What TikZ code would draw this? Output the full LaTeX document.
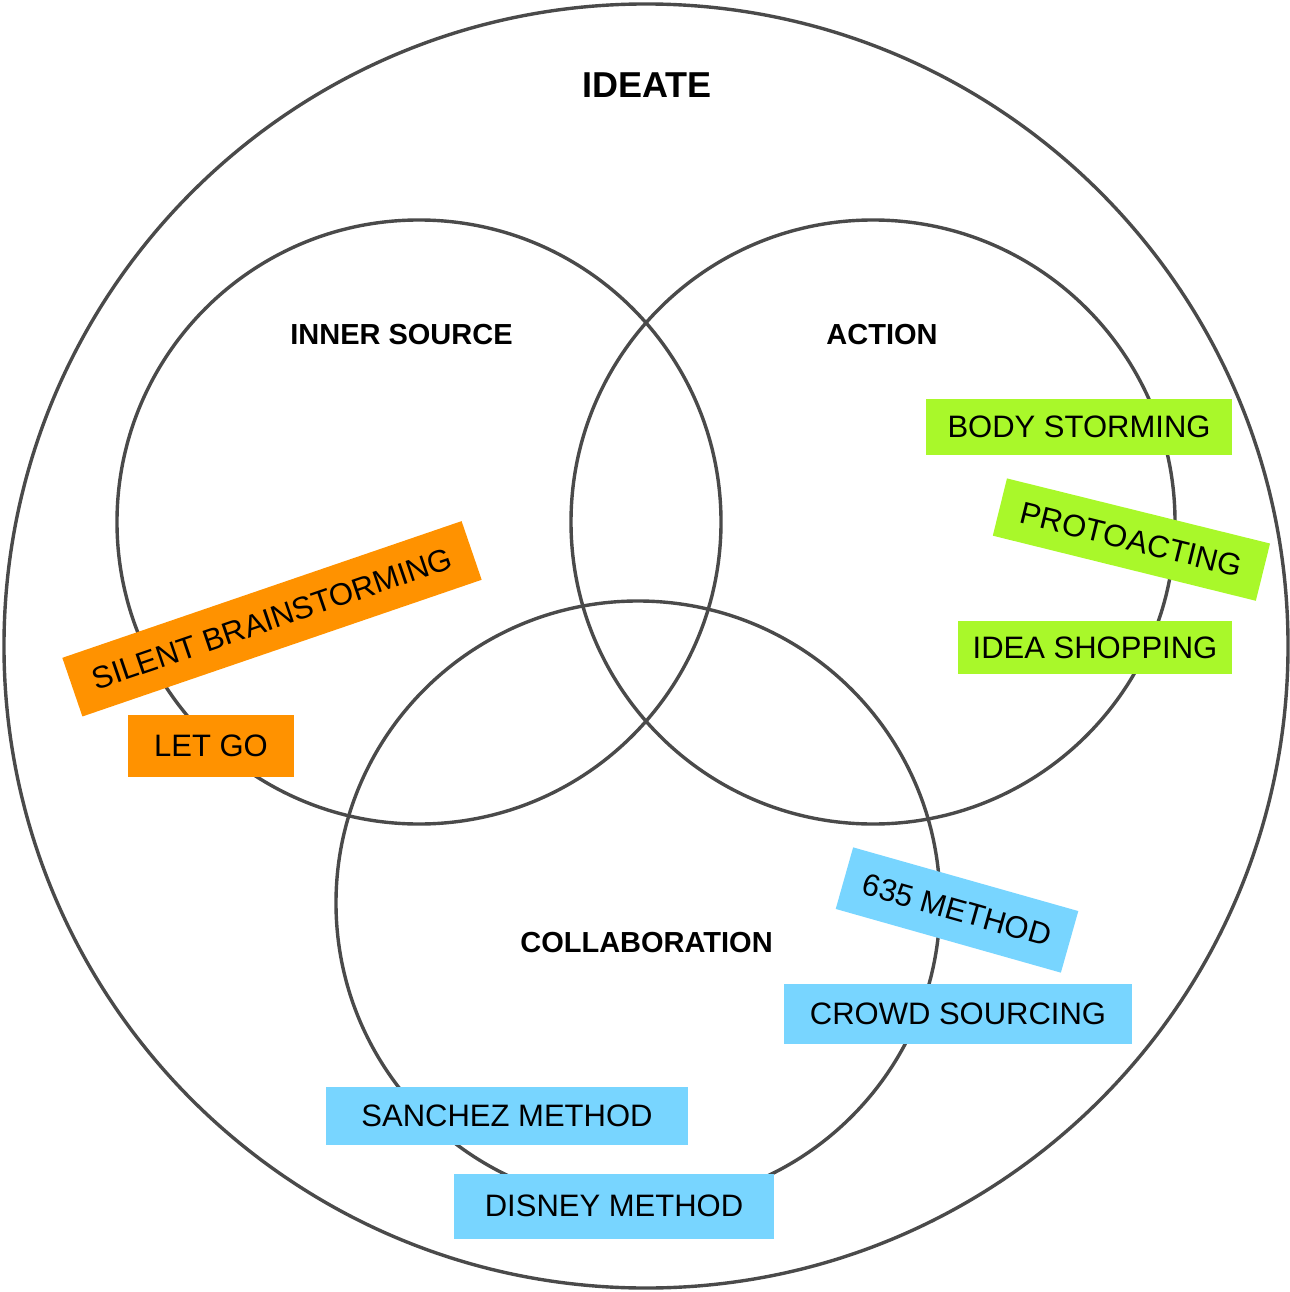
\documentclass[tikz,border=0pt]{standalone}
\usepackage{fontspec}
\setmainfont{Liberation Sans}
\definecolor{ringgray}{HTML}{4A4A4A}
\definecolor{tagorange}{HTML}{FF9200}
\definecolor{taggreen}{HTML}{A9F82A}
\definecolor{tagblue}{HTML}{78D5FF}
\begin{document}
\begin{tikzpicture}[x=0.5bp,y=-0.5bp,
  ring/.style={circle, draw=ringgray, line width=1.7bp, inner sep=0pt},
  title/.style={inner sep=0pt, font=\bfseries\fontsize{18bp}{21bp}\selectfont},
  heading/.style={inner sep=0pt, font=\bfseries\fontsize{14.5bp}{17bp}\selectfont},
  tag/.style={inner sep=0pt, font=\fontsize{15.5bp}{18bp}\selectfont, text=black},
  orangetag/.style={tag, fill=tagorange},
  greentag/.style={tag, fill=taggreen},
  bluetag/.style={tag, fill=tagblue}]
\useasboundingbox (0,0) rectangle (1290,1292);

% circles
\node[ring, minimum size=642bp] (ideate) at (646,646) {};
\node[ring, minimum size=302bp] (inner) at (419,522) {};
\node[ring, minimum size=302bp] (action) at (873,522) {};
\node[ring, minimum size=302bp] (collab) at (638,903) {};

% headings
\node[title] (ideatelabel) at (647,85) {IDEATE};
\node[heading] (innerlabel) at (401.5,335) {INNER SOURCE};
\node[heading] (actionlabel) at (882,335) {ACTION};
\node[heading] (collablabel) at (646.5,943) {COLLABORATION};

% inner source methods
\node[orangetag, minimum width=211bp, minimum height=31bp, rotate=18.9] (silent) at (272,618.8) {SILENT BRAINSTORMING};
\node[orangetag, minimum width=83bp, minimum height=31bp] (letgo) at (211,745.8) {LET GO};

% action methods
\node[greentag, minimum width=153bp, minimum height=28bp] (body) at (1079,427) {BODY STORMING};
\node[greentag, minimum width=135.5bp, minimum height=29.5bp, rotate=-13.9] (proto) at (1131.4,539.6) {PROTOACTING};
\node[greentag, minimum width=137bp, minimum height=26.5bp] (shop) at (1095,647.5) {IDEA SHOPPING};

% collaboration methods
\node[bluetag, minimum width=117bp, minimum height=32bp, rotate=-15.8] (sixthreefive) at (957,910) {635 METHOD};
\node[bluetag, minimum width=174bp, minimum height=30bp] (crowd) at (958,1013.5) {CROWD SOURCING};
\node[bluetag, minimum width=181bp, minimum height=29bp] (sanchez) at (507,1116) {SANCHEZ METHOD};
\node[bluetag, minimum width=160bp, minimum height=32.5bp] (disney) at (614,1206.3) {DISNEY METHOD};
\end{tikzpicture}
\end{document}
